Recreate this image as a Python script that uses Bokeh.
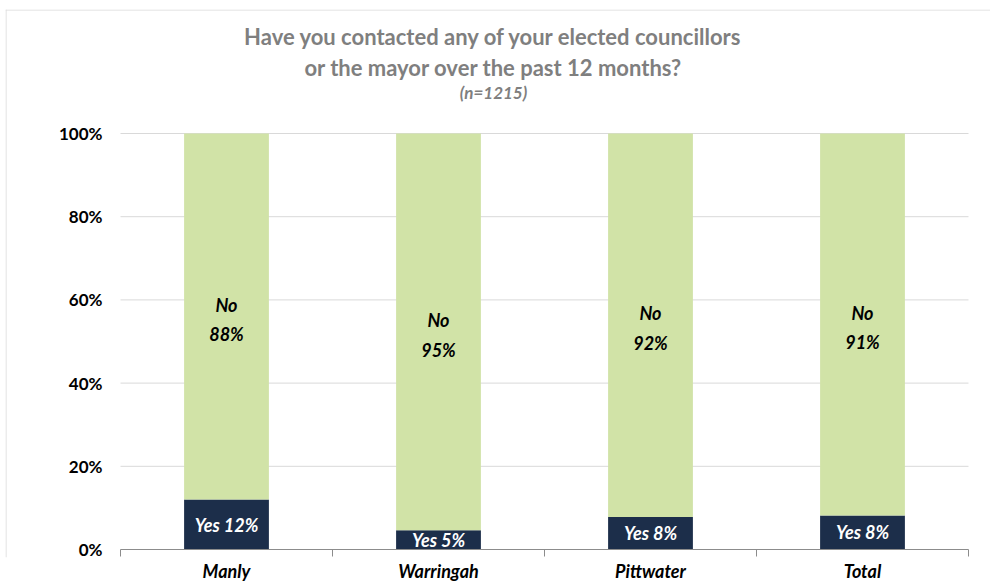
from bokeh.plotting import figure
from bokeh.models import Range1d, FixedTicker, ColumnDataSource, Span
from bokeh.core.properties import value
from bokeh.embed import file_html
from bokeh.resources import INLINE

categories = ["Manly", "Warringah", "Pittwater", "Total"]
yes_pct = [12.0, 4.6, 7.8, 8.2]
no_pct = [88.0, 95.4, 92.2, 91.8]
yes_labels = ["Yes 12%", "Yes 5%", "Yes 8%", "Yes 8%"]
no_labels = ["No\n88%", "No\n95%", "No\n92%", "No\n91%"]
y_ticks = [0, 20, 40, 60, 80, 100]
y_tick_labels = ["0%", "20%", "40%", "60%", "80%", "100%"]
title_line1 = "Have you contacted any of your elected councillors"
title_line2 = "or the mayor over the past 12 months?"
subtitle = "(n=1215)"

FONT = "Lato"
NAVY = "#1c2e4a"
GREEN = "#d1e3a7"
GREY_TXT = "#7f7f7f"
GRID = "#d9d9d9"
AXIS = "#8c8c8c"

N = len(categories)
CAT_PX = 212.0            # pixels per category
PX_PER_PCT = 4.16         # pixels per percentage point
FRAME_W = 985
TOP_PX, BOTTOM_PX = 540, 8   # frame extent above / below the 0% line
FRAME_H = TOP_PX + BOTTOM_PX
X0 = -115 / CAT_PX        # frame left edge sits 115 px left of first category
X1 = X0 + FRAME_W / CAT_PX
Y_TOP = TOP_PX / PX_PER_PCT
Y_BOT = -BOTTOM_PX / PX_PER_PCT
TICK = 7 / PX_PER_PCT

xs = [i + 0.5 for i in range(N)]
src = ColumnDataSource(dict(
    x=xs, yes=yes_pct, no=no_pct,
    yes_mid=[v / 2 for v in yes_pct],
    no_mid=[y + n / 2 for y, n in zip(yes_pct, no_pct)],
    yes_lab=yes_labels, no_lab=no_labels,
))

p = figure(frame_width=FRAME_W, frame_height=FRAME_H, output_backend="svg",
           toolbar_location=None, x_range=Range1d(X0, X1),
           y_range=Range1d(Y_BOT, Y_TOP), y_axis_location=None)
p.min_border_left = 5
p.min_border_top = 9
p.min_border_right = 0
p.min_border_bottom = 0
p.outline_line_color = None
p.background_fill_color = "white"
p.border_fill_color = "white"
p.xgrid.visible = False
p.ygrid.visible = False

# chart border (top and left)
p.add_layout(Span(location=Y_TOP - 0.5 / PX_PER_PCT, dimension="width",
                  line_color=GRID, line_width=1))
p.add_layout(Span(location=X0 + 0.5 / CAT_PX, dimension="height",
                  line_color=GRID, line_width=1))

# gridlines over the category span
p.segment(x0=[0] * len(y_ticks[1:]), x1=[N] * len(y_ticks[1:]),
          y0=y_ticks[1:], y1=y_ticks[1:], line_color=GRID, line_width=1)

p.vbar_stack(["yes", "no"], x="x", width=0.4, color=[NAVY, GREEN],
             line_color=None, source=src)

# x baseline and category-boundary ticks
p.segment(x0=[0], x1=[N], y0=[0], y1=[0], line_color=AXIS, line_width=1)
p.segment(x0=list(range(N + 1)), x1=list(range(N + 1)),
          y0=[0] * (N + 1), y1=[-TICK] * (N + 1), line_color=AXIS, line_width=1)

# y tick labels
p.text(x=[-18 / CAT_PX] * len(y_ticks), y=y_ticks, text=y_tick_labels,
       text_align="right", text_baseline="middle", text_color="black",
       text_font=value(FONT), text_font_style="bold", text_font_size="17px")

p.text(x="x", y="yes_mid", text="yes_lab", source=src, text_align="center",
       text_baseline="middle", text_color="white", text_font=value(FONT),
       text_font_style="bold italic", text_font_size="18px")
p.text(x="x", y="no_mid", text="no_lab", source=src, text_align="center",
       text_baseline="middle", text_color="black", text_font=value(FONT),
       text_font_style="bold italic", text_font_size="18px", text_line_height=1.35,
       y_offset=3)

# title
TX = (493 - 120) / CAT_PX
p.text(x=[TX, TX, TX], y=[123.4, 115.9, 109.8],
       text=[title_line1, title_line2, subtitle],
       text_font_size=["22px", "22px", "17px"],
       text_font_style=["bold", "bold", "bold italic"],
       text_align="center", text_baseline="middle", text_color=GREY_TXT,
       text_font=value(FONT))

# x axis: category labels only
p.xaxis.ticker = FixedTicker(ticks=xs, minor_ticks=[])
p.xaxis.major_label_overrides = {x: c for x, c in zip(xs, categories)}
p.xaxis.axis_line_color = None
p.xaxis.major_tick_line_color = None
p.xaxis.minor_tick_line_color = None
p.xaxis.major_tick_out = 0
p.xaxis.major_tick_in = 0
p.xaxis.minor_tick_out = 0
p.xaxis.minor_tick_in = 0
p.xaxis.major_label_standoff = 2
p.xaxis.major_label_text_font = FONT
p.xaxis.major_label_text_font_style = "bold italic"
p.xaxis.major_label_text_font_size = "18px"
p.xaxis.major_label_text_color = "black"

open("out.html", "w").write(file_html(p, INLINE))
